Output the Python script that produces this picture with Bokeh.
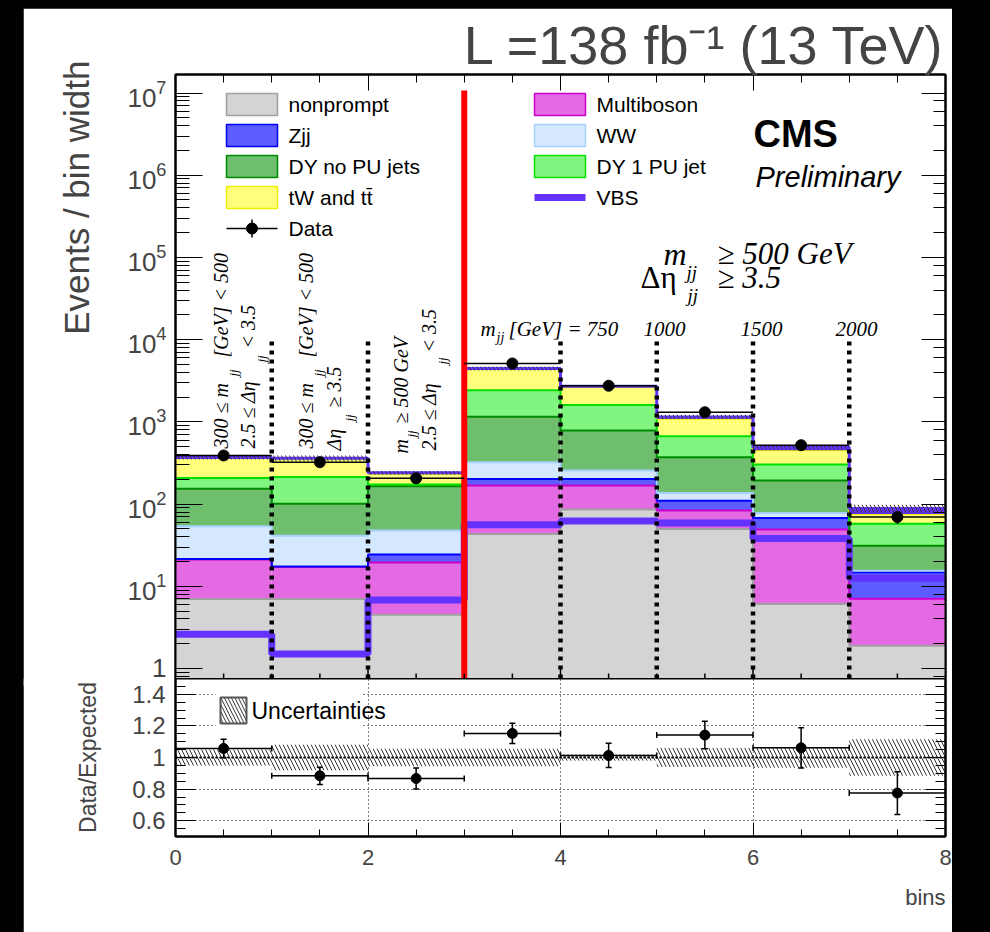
import math
from bokeh.plotting import figure
from bokeh.models import (Range1d, Label, LinearAxis, LogAxis, FixedTicker, Span,
                          CustomJSTickFormatter, LogTickFormatter, Title)
from bokeh.layouts import column
from bokeh.embed import file_html
from bokeh.resources import INLINE
from bokeh.core.properties import value

# ---------------- data ----------------
bin_edges = [0, 1, 2, 3, 4, 5, 6, 7, 8]
separators = [1, 2, 4, 5, 6, 7]
signal_divider = 3
process_names = ["nonprompt", "Multiboson", "Zjj", "WW", "DY no PU jets", "DY 1 PU jet", "tW and t\u0074\u0304"]
nonprompt = [7.0, 7.0, 4.5, 43.2, 85.7, 49.7, 6.1, 1.89]
multiboson = [14.1, 10.1, 15.0, 124.8, 82.3, 33.7, 42.8, 5.18]
zjj = [0.3, 0.3, 4.8, 34.0, 34.0, 26.6, 18.8, 7.7]
ww = [32.3, 23.9, 23.3, 121.0, 54.0, 26.0, 10.3, 0.7]
dy_nopu = [99.3, 59.7, 117.4, 827.0, 529.0, 236.0, 115.0, 15.7]
dy_1pu = [55.0, 113.0, 8.0, 1280.0, 815.0, 298.0, 110.0, 26.6]
tw_tt = [157.0, 145.0, 60.0, 1970.0, 1050.0, 420.0, 149.0, 17.9]
vbs = [2.6, 1.5, 6.8, 56.0, 62.0, 59.0, 38.0, 12.5]
data_obs = [390.0, 323.0, 206.0, 5130.0, 2750.0, 1310.0, 520.0, 69.6]
ratio = [1.057, 0.884, 0.867, 1.152, 1.013, 1.142, 1.061, 0.775]
ratio_err = [0.058, 0.055, 0.066, 0.064, 0.077, 0.087, 0.128, 0.135]
rel_unc = [0.05, 0.08, 0.055, 0.055, 0.02, 0.06, 0.065, 0.115]
ratio_ticks = [0.6, 0.8, 1.0, 1.2, 1.4]
x_ticks = [0, 2, 4, 6, 8]

SANS = "Liberation Sans"
SERIF = "Liberation Serif"

# ---------------- geometry helpers (page pixels) ----------------
FL, FR, FT, FB, RB = 175, 945, 74, 678, 836
Y_LO, Y_HI = 0.755, 1.68e7
R_LO, R_HI = 0.5, 1.5
LDEC = (FB - FT) / (math.log10(Y_HI) - math.log10(Y_LO))


def xd(px):
    return (px - FL) / (FR - FL) * 8.0


def yd(py):
    return 10 ** (math.log10(Y_LO) + (FB - py) / LDEC)


def rd(py):
    return R_LO + (RB - py) / (RB - FB) * (R_HI - R_LO)


def lab(fig, px, py, text, size, font=SANS, style="normal", align="left",
        baseline="alphabetic", angle=0.0, fmap=yd, color="black"):
    fig.add_layout(Label(x=xd(px), y=fmap(py), text=text, text_font=font,
                         text_font_size=f"{size}px", text_font_style=style,
                         text_align=align, text_baseline=baseline, angle=angle,
                         text_color=color))


def blank():
    return CustomJSTickFormatter(code="return ''")


lo = bin_edges[:-1]
hi = bin_edges[1:]
centers = [(a + b) / 2 for a, b in zip(lo, hi)]

# ---------------- main figure ----------------
p = figure(width=929, height=678, x_range=Range1d(0, 8), y_range=Range1d(Y_LO, Y_HI),
           y_axis_type="log", x_axis_location="above", output_backend="svg",
           toolbar_location=None, min_border_left=152, min_border_right=7,
           min_border_top=66, min_border_bottom=8)
p.margin = (8, 38, 0, 23)
p.grid.visible = False
p.outline_line_color = "black"
p.outline_line_width = 2
p.background_fill_color = "white"
p.border_fill_color = "white"

p.title.text = "L =138 fb\u207b\u00b9 (13 TeV)"
p.title.align = "right"
p.title.text_font = SANS
p.title.text_font_size = "54px"
p.title.text_font_style = "normal"
p.title.standoff = 0

ax = p.yaxis[0]
ax.major_tick_in = 27
ax.major_tick_out = 0
ax.minor_tick_in = 14
ax.minor_tick_out = 0
ax.formatter = LogTickFormatter(min_exponent=1)
ax.major_label_text_font = SANS
ax.major_label_text_font_size = "26px"
ax.major_label_standoff = 9
ax.axis_line_width = 2
p.add_layout(Title(text="Events / bin width", align="right", text_font=SANS,
                   text_font_size="35px", text_font_style="normal", standoff=58,
                   offset=-14), "left")

rax = LogAxis(major_tick_in=24, major_tick_out=0, minor_tick_in=12, minor_tick_out=0,
              formatter=blank(), major_label_standoff=0, axis_line_width=2)
p.add_layout(rax, "right")
tax = p.xaxis[0]
tax.ticker = FixedTicker(ticks=x_ticks, minor_ticks=[0.5 * i for i in range(17)])
tax.major_tick_in = 16
tax.major_tick_out = 0
tax.minor_tick_in = 8
tax.minor_tick_out = 0
tax.formatter = blank()
tax.major_label_standoff = 0
tax.axis_line_width = 2

fills = ["#d4d4d4", "#e46ae4", "#5c5cff", "#d4e9ff", "#6ebe6e", "#80f680", "#ffff7c"]
lines = ["#a0a0a0", "#cc00cc", "#0000ff", "#a8d0ff", "#008c00", "#00e000", "#eeee00"]
layers = [nonprompt, multiboson, zjj, ww, dy_nopu, dy_1pu, tw_tt]

cum = [0.0] * 8
for vals, fc, lc in zip(layers, fills, lines):
    new = [c + v for c, v in zip(cum, vals)]
    p.quad(left=lo, right=hi, bottom=[max(c, 0.3) for c in cum], top=new,
           fill_color=fc, line_color=None)
    cum = new
bkg_total = cum
total = [b + s for b, s in zip(bkg_total, vbs)]

cum = [0.0] * 8
for vals, lc in zip(layers, lines):
    cum = [c + v for c, v in zip(cum, vals)]
    p.step(x=bin_edges, y=cum + [cum[-1]], mode="after", line_color=lc, line_width=2)

VBS_COL = "#6432ff"
p.quad(left=lo, right=hi, bottom=bkg_total, top=total, fill_color=VBS_COL, line_color=None)
p.step(x=bin_edges, y=total + [total[-1]], mode="after", line_color=VBS_COL, line_width=3)

# uncertainty band
p.quad(left=lo, right=hi, bottom=[t * (1 - u) for t, u in zip(total, rel_unc)],
       top=[t * (1 + u) for t, u in zip(total, rel_unc)], fill_color=None, line_color=None,
       hatch_pattern="left_diagonal_line", hatch_color="#333333", hatch_scale=8, hatch_weight=1)

# VBS alone
p.step(x=bin_edges, y=vbs + [vbs[-1]], mode="after", line_color=VBS_COL, line_width=7)

# separators
p.segment(x0=separators, y0=[Y_LO] * len(separators), x1=separators, y1=[1e4] * len(separators),
          line_color="black", line_width=4.5, line_dash="4 5")
p.segment(x0=[signal_divider], y0=[Y_LO], x1=[signal_divider], y1=[1.07e7],
          line_color="#ff0000", line_width=6)

# bottom ticks of the main frame
minor_x = [0.5 * i for i in range(1, 16)]
p.segment(x0=minor_x, y0=[Y_LO] * len(minor_x), x1=minor_x,
          y1=[yd(FB - (10 if (x % 2 == 0) else 5)) for x in minor_x], line_color="black", line_width=1.5)

# data
data_err = [d * e / r for d, e, r in zip(data_obs, ratio_err, ratio)]
p.segment(x0=lo, y0=data_obs, x1=hi, y1=data_obs, line_color="black", line_width=1.5)
p.segment(x0=centers, y0=[d - e for d, e in zip(data_obs, data_err)], x1=centers,
          y1=[d + e for d, e in zip(data_obs, data_err)], line_color="black", line_width=1.5)
p.scatter(centers, data_obs, size=11, color="black")

# ---------------- legend (main) ----------------
left_rows = [104, 135, 166, 197]
left_items = [0, 2, 4, 6]
right_items = [1, 3, 5]
for row, idx in zip(left_rows, left_items):
    p.quad(left=[xd(226)], right=[xd(277)], bottom=[yd(row + 11)], top=[yd(row - 11)],
           fill_color=fills[idx], line_color=lines[idx], line_width=1.5)
    lab(p, 288, row, process_names[idx], 21, baseline="middle")
for row, idx in zip(left_rows[:3], right_items):
    p.quad(left=[xd(534)], right=[xd(585)], bottom=[yd(row + 11)], top=[yd(row - 11)],
           fill_color=fills[idx], line_color=lines[idx], line_width=1.5)
    lab(p, 596, row, process_names[idx], 21, baseline="middle")
p.segment(x0=[xd(534)], y0=[yd(197)], x1=[xd(585)], y1=[yd(197)], line_color=VBS_COL, line_width=7)
lab(p, 596, 197, "VBS", 21, baseline="middle")
p.segment(x0=[xd(226)], y0=[yd(228)], x1=[xd(277)], y1=[yd(228)], line_color="black", line_width=1.5)
p.segment(x0=[xd(251.5)], y0=[yd(237)], x1=[xd(251.5)], y1=[yd(219)], line_color="black", line_width=1.5)
p.scatter([xd(251.5)], [yd(228)], size=11, color="black")
lab(p, 288, 228, "Data", 21, baseline="middle")

# ---------------- texts ----------------
lab(p, 753, 133, "CMS", 38, style="bold")
lab(p, 755, 176, "Preliminary", 29, style="italic")

# region texts (rotated)
A = math.pi / 2
S = dict(font=SERIF, style="italic", baseline="middle", angle=A)
lab(p, 220, 448, "300 \u2264 m", 20, **S)
lab(p, 233, 376, "jj", 13, **S)
lab(p, 220, 357, "[GeV]  <  500", 20, **S)
lab(p, 247, 448, "2.5 \u2264 \u0394\u03b7", 20, **S)
lab(p, 261, 362, "jj", 13, **S)
lab(p, 247, 348, "<  3.5", 20, **S)

lab(p, 305, 448, "300 \u2264 m", 20, **S)
lab(p, 318, 376, "jj", 13, **S)
lab(p, 305, 357, "[GeV]  <  500", 20, **S)
lab(p, 333, 450, "\u0394\u03b7", 20, **S)
lab(p, 349, 421, "jj", 13, **S)
lab(p, 333, 407, "\u2265  3.5", 20, **S)

lab(p, 400, 453, "m", 20, **S)
lab(p, 411, 437, "jj", 13, **S)
lab(p, 400, 423, "\u2265  500 GeV", 20, **S)
lab(p, 428, 450, "2.5 \u2264 \u0394\u03b7", 20, **S)
lab(p, 442, 364, "jj", 13, **S)
lab(p, 428, 352, "<  3.5", 20, **S)

# right region texts
lab(p, 663, 253, "m", 32, font=SERIF, style="italic")
lab(p, 686, 272, "jj", 19, font=SERIF, style="italic")
lab(p, 717, 253, "\u2265  500 GeV", 31, font=SERIF, style="italic")
lab(p, 640, 277, "\u0394\u03b7", 31, font=SERIF)
lab(p, 687, 295, "jj", 19, font=SERIF, style="italic")
lab(p, 717, 277, "\u2265  3.5", 31, font=SERIF, style="italic")

lab(p, 480, 328, "m", 21, font=SERIF, style="italic")
lab(p, 496, 337, "jj", 14, font=SERIF, style="italic")
lab(p, 508, 328, "[GeV] = 750", 21, font=SERIF, style="italic")
lab(p, 643, 328, "1000", 21, font=SERIF, style="italic")
lab(p, 740, 328, "1500", 21, font=SERIF, style="italic")
lab(p, 835, 328, "2000", 21, font=SERIF, style="italic")

# ---------------- ratio figure ----------------
r = figure(width=929, height=254, x_range=p.x_range, y_range=Range1d(R_LO, R_HI),
           output_backend="svg", toolbar_location=None, min_border_left=152,
           min_border_right=7, min_border_top=0, min_border_bottom=96)
r.margin = (-8, 38, 0, 23)
r.outline_line_color = "black"
r.outline_line_width = 2
r.border_fill_color = "white"
minor_r = [round(0.5 + 0.05 * i, 2) for i in range(21)]
r.xaxis.ticker = FixedTicker(ticks=x_ticks, minor_ticks=[0.5 * i for i in range(17)])
r.xaxis.major_tick_in = 14
r.xaxis.major_tick_out = 0
r.xaxis.minor_tick_in = 7
r.xaxis.minor_tick_out = 0
r.xaxis.major_label_text_font_size = "22px"
r.xaxis.major_label_text_font = SANS
r.xaxis.major_label_standoff = 13
r.xaxis.axis_line_width = 2
r.yaxis.ticker = FixedTicker(ticks=ratio_ticks, minor_ticks=minor_r)
r.yaxis.major_tick_in = 20
r.yaxis.major_tick_out = 0
r.yaxis.minor_tick_in = 10
r.yaxis.minor_tick_out = 0
r.yaxis.major_label_text_font_size = "24px"
r.yaxis.major_label_text_font = SANS
r.yaxis.major_label_standoff = 10
r.yaxis.axis_line_width = 2
r.yaxis.formatter = CustomJSTickFormatter(code="return (Math.abs(tick - 1) < 1e-9) ? '1' : tick.toFixed(1)")
r.yaxis.axis_label = "Data/Expected"
r.yaxis.axis_label_text_font = SANS
r.yaxis.axis_label_text_font_size = "23px"
r.yaxis.axis_label_text_font_style = "normal"
r.yaxis.axis_label_standoff = 28
ray = LinearAxis(ticker=FixedTicker(ticks=ratio_ticks, minor_ticks=minor_r), major_tick_in=20,
                 major_tick_out=0, minor_tick_in=10, minor_tick_out=0,
                 formatter=blank(), major_label_standoff=0, axis_line_width=2)
r.add_layout(ray, "right")
r.add_layout(Title(text="bins", align="right", text_font=SANS, text_font_size="22px",
                   text_font_style="normal", standoff=31), "below")
r.xgrid.ticker = FixedTicker(ticks=[2, 4, 6])
r.ygrid.ticker = FixedTicker(ticks=ratio_ticks)
for g in [r.xgrid[0], r.ygrid[0]]:
    g.grid_line_color = "black"
    g.grid_line_width = 1
    g.grid_line_dash = "1 3"
r.add_layout(Span(location=1.0, dimension="width", line_color="black", line_width=2,
                  line_dash="2 2"))

r.quad(left=lo, right=hi, bottom=[1 - u for u in rel_unc], top=[1 + u for u in rel_unc],
       fill_color=None, line_color=None, hatch_pattern="left_diagonal_line",
       hatch_color="#333333", hatch_scale=8, hatch_weight=1)

# legend box
r.quad(left=[xd(215)], right=[xd(362)], bottom=[rd(735)], top=[rd(686)], fill_color="white",
       line_color=None)
r.quad(left=[xd(220)], right=[xd(246)], bottom=[rd(723)], top=[rd(697)], fill_color="white",
       line_color="#555555", line_width=2, hatch_pattern="left_diagonal_line",
       hatch_color="#333333", hatch_scale=7, hatch_weight=1)
lab(r, 251, 710, "Uncertainties", 23, baseline="middle", fmap=rd)

# ratio points
r.segment(x0=lo, y0=ratio, x1=hi, y1=ratio, line_color="black", line_width=1.5)
r.segment(x0=centers, y0=[a - e for a, e in zip(ratio, ratio_err)], x1=centers,
          y1=[a + e for a, e in zip(ratio, ratio_err)], line_color="black", line_width=1.5)
r.scatter(centers + centers, [a - e for a, e in zip(ratio, ratio_err)] + [a + e for a, e in zip(ratio, ratio_err)],
          marker="dash", size=6, color="black", line_width=1.5)
r.scatter(lo + hi, ratio + ratio, marker="dash", angle=math.pi / 2, size=6, color="black", line_width=1.5)
r.scatter(centers, ratio, size=10, color="black")

layout = column(p, r, styles={"background-color": "black"})
open("out.html", "w").write(file_html(layout, INLINE))
